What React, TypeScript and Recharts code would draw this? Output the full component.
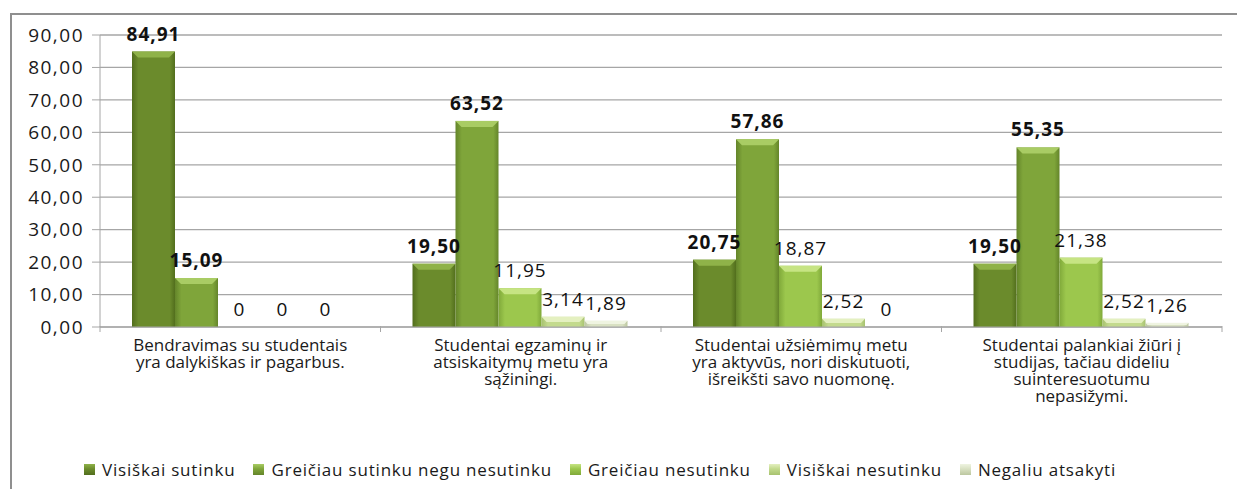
import React from 'react';
import { BarChart, Bar, XAxis, YAxis, CartesianGrid, Legend, LabelList } from 'recharts';

const categories = [
  'Bendravimas su studentais\nyra dalykiškas ir pagarbus.',
  'Studentai egzaminų ir\natsiskaitymų metu yra\nsąžiningi.',
  'Studentai užsiėmimų metu\nyra aktyvūs, nori diskutuoti,\nišreikšti savo nuomonę.',
  'Studentai palankiai žiūri į\nstudijas, tačiau dideliu\nsuinteresuotumu\nnepasižymi.',
];

const seriesNames = [
  'Visiškai sutinku',
  'Greičiau sutinku negu nesutinku',
  'Greičiau nesutinku',
  'Visiškai nesutinku',
  'Negaliu atsakyti',
];

const visiskaiSutinku = [84.91, 19.5, 20.75, 19.5];
const greiciauSutinku = [15.09, 63.52, 57.86, 55.35];
const greiciauNesutinku = [0, 11.95, 18.87, 21.38];
const visiskaiNesutinku = [0, 3.14, 2.52, 2.52];
const negaliuAtsakyti = [0, 1.89, 0, 1.26];

const yTicks = [0, 10, 20, 30, 40, 50, 60, 70, 80, 90];

const seriesValues = [visiskaiSutinku, greiciauSutinku, greiciauNesutinku, visiskaiNesutinku, negaliuAtsakyti];

// base / dark edge / light bevel
const palette = [
  ['#6b8b2c', '#526e1d', '#8fb249'],
  ['#7fa53a', '#64852a', '#a9cc64'],
  ['#9cc74d', '#80a93a', '#c6e483'],
  ['#c3da8d', '#a7c26f', '#e4f0c0'],
  ['#d9e1c3', '#bcc7a0', '#eff4e1'],
];

const data = categories.map((name, i) => {
  const row: Record<string, string | number> = { name };
  seriesValues.forEach((vals, s) => {
    row['s' + s] = vals[i];
  });
  return row;
});

const FONT = '"Open Sans", "Noto Sans", sans-serif';

const fmtLabel = (v: any) => {
  const n = Number(v);
  if (n === 0) return '0';
  return n.toFixed(2).replace('.', ',');
};

const fmtTick = (v: number) => v.toFixed(2).replace('.', ',');

const makeShape = (s: number) => (props: any) => {
  const { x, y, width, height } = props;
  if (!height || height <= 0) return <g />;
  const b = Math.min(6, height / 2);
  return (
    <g>
      <rect x={x} y={y} width={width} height={height} fill={`url(#grad${s})`} />
      <polygon
        points={`${x},${y} ${x + width},${y} ${x + width - b},${y + b} ${x + b},${y + b}`}
        fill={palette[s][2]}
      />
    </g>
  );
};

const CategoryTick = (props: any) => {
  const { x, y, payload, index } = props;
  const off = payload.offset || 0;
  const lines = String(payload.value).split('\n');
  return (
    <g>
      <line x1={x - off} y1={y - 1} x2={x - off} y2={y + 5} stroke="#a6a6a6" />
      {index === categories.length - 1 && (
        <line x1={x + off} y1={y - 1} x2={x + off} y2={y + 5} stroke="#a6a6a6" />
      )}
      <text x={x} y={y + 24} textAnchor="middle" fontFamily={FONT} fontSize={17} fill="#1a1a1a">
        {lines.map((l, i) => (
          <tspan key={i} x={x} dy={i === 0 ? 0 : 17}>
            {l}
          </tspan>
        ))}
      </text>
    </g>
  );
};

const LegendContent = () => (
  <div
    style={{
      display: 'flex',
      justifyContent: 'center',
      alignItems: 'center',
      height: 22,
      paddingRight: 14,
      fontFamily: FONT,
      fontSize: 17,
      letterSpacing: 0.8,
      color: '#1a1a1a',
      whiteSpace: 'nowrap',
    }}
  >
    {seriesNames.map((n, s) => (
      <span key={n} style={{ display: 'inline-flex', alignItems: 'center', marginRight: 18 }}>
        <span
          style={{
            display: 'inline-block',
            width: 11,
            height: 11,
            marginRight: 7,
            background: `linear-gradient(180deg, ${palette[s][2]} 0%, ${palette[s][0]} 45%, ${palette[s][1]} 100%)`,
          }}
        />
        {n}
      </span>
    ))}
  </div>
);

export default function App() {
  return (
    <div style={{ position: 'absolute', left: 0, top: 0, width: 1237, height: 489, background: '#fff', overflow: 'hidden' }}>
      <div
        style={{
          position: 'absolute',
          left: 10,
          top: 13,
          width: 1300,
          height: 600,
          borderLeft: '2px solid #8f8f8f',
          borderTop: '2px solid #8f8f8f',
        }}
      />
      <div style={{ position: 'absolute', left: 0, top: 0 }}>
        <BarChart
          width={1237}
          height={489}
          data={data}
          margin={{ top: 35, right: 15, left: 10, bottom: 9 }}
          barCategoryGap={32}
          barGap={0}
        >
          <defs>
            {palette.map((c, s) => (
              <linearGradient key={s} id={`grad${s}`} x1="0" y1="0" x2="1" y2="0">
                <stop offset="0%" stopColor={c[1]} />
                <stop offset="15%" stopColor={c[0]} />
                <stop offset="55%" stopColor={c[0]} />
                <stop offset="88%" stopColor={c[0]} />
                <stop offset="100%" stopColor={c[1]} />
              </linearGradient>
            ))}
          </defs>
          <CartesianGrid vertical={false} stroke="#a6a6a6" strokeWidth={1.3} />
          <XAxis
            dataKey="name"
            interval={0}
            height={131}
            tickSize={0}
            tickMargin={0}
            tickLine={false}
            axisLine={{ stroke: '#a6a6a6' }}
            tick={<CategoryTick />}
          />
          <YAxis
            width={90}
            domain={[0, 90]}
            ticks={yTicks}
            interval={0}
            tickFormatter={fmtTick}
            tickSize={8}
            tickMargin={8}
            axisLine={{ stroke: '#a6a6a6' }}
            tickLine={{ stroke: '#a6a6a6' }}
            tick={{ fontFamily: FONT, fontSize: 19, fill: '#1a1a1a', letterSpacing: 1.5 }}
          />
          <Legend verticalAlign="bottom" content={<LegendContent />} />
          {seriesNames.map((n, s) => (
            <Bar
              key={n}
              dataKey={'s' + s}
              name={n}
              fill={palette[s][0]}
              shape={makeShape(s)}
              isAnimationActive={false}
            >
              <LabelList
                dataKey={'s' + s}
                position="top"
                offset={11}
                formatter={fmtLabel}
                style={{
                  fontFamily: FONT,
                  fontSize: 19,
                  fontWeight: s < 2 ? 700 : 400,
                  letterSpacing: 1,
                  fill: '#111',
                }}
              />
            </Bar>
          ))}
        </BarChart>
      </div>
    </div>
  );
}
